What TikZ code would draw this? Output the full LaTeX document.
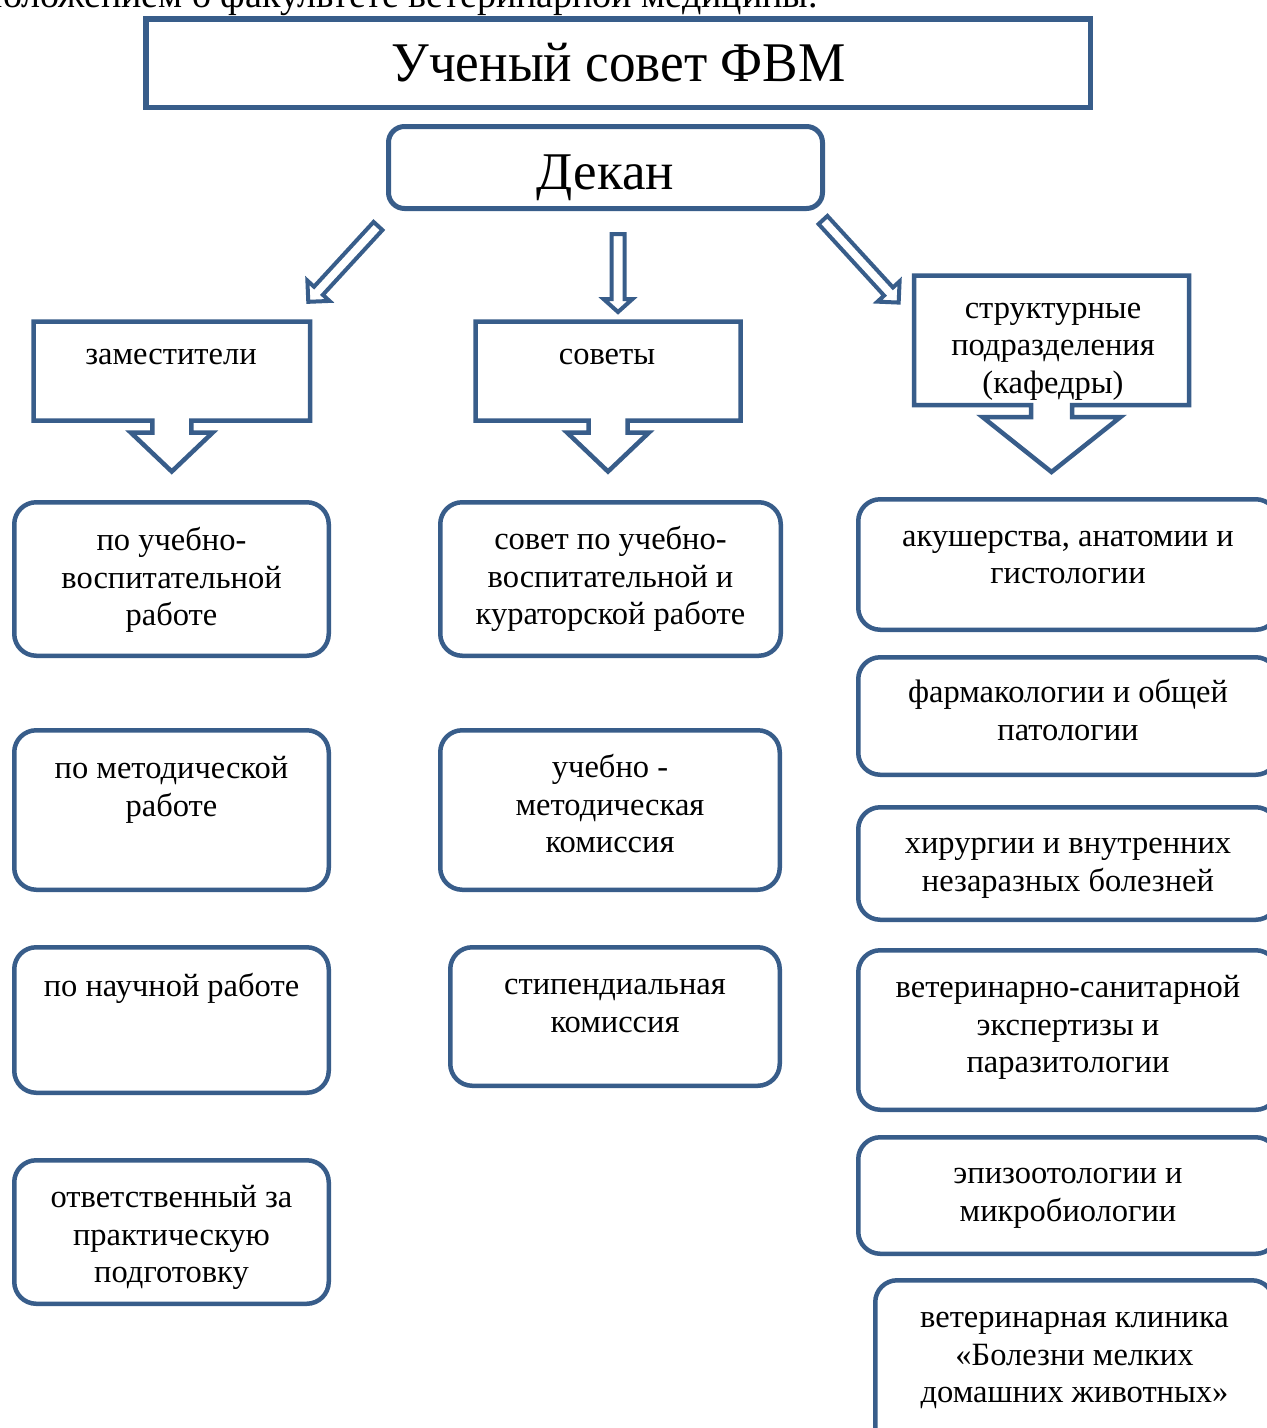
\documentclass[tikz,border=0pt]{standalone}
\usepackage{fontspec}
\setmainfont{Liberation Serif}
\usetikzlibrary{calc}
\definecolor{blu}{RGB}{56,93,138}
\newcommand\bodyfont{\fontsize{32.5}{37.5}\selectfont}
\tikzset{
  ln/.style={draw=blu, line width=4.5pt, line join=miter},
  rbox/.style={ln, rectangle, rounded corners=22pt, fill=white, inner sep=0pt, outer sep=0pt},
  txt/.style={font=\bodyfont, align=center, inner sep=0pt, anchor=north, text=black},
  harrow/.style={draw=blu, line width=4pt, fill=white, line join=miter},
  ghost/.style={rectangle, inner sep=0pt, outer sep=0pt},
}
% name, x1, y1, x2, y2 (outer edges), first line centre y, text
\newcommand\rbx[7]{%
  \node[rbox, minimum width={#4-#2-4.5}, minimum height={#5-#3-4.5}] (#1) at ({(#2+#4)/2},{(#3+#5)/2}) {};
  \node[txt] (#1-t) at ({(#2+#4)/2},{#6-16.5}) {#7};
}
% tail coordinate, angle, length, shaft half width, head half width, head length
\newcommand\blockarrow[6]{%
  \begin{scope}[shift={(#1)}, rotate=#2]
    \draw[harrow] (0,-#4) -- ({#3-#6},-#4) -- ({#3-#6},-#5) -- (#3,0) -- ({#3-#6},#5) -- ({#3-#6},#4) -- (0,#4) -- cycle;
  \end{scope}}
\begin{document}
\begin{tikzpicture}[x=1pt, y=-1pt]
\useasboundingbox (0,0) rectangle (1267,1428);
\fill[white] (0,0) rectangle (1267,1428);
\clip (0,0) rectangle (1267,1428);

% preceding text line (cut off at the top)
\node[font=\fontsize{38}{44}\selectfont, anchor=base east, inner sep=0pt] (prev) at (818,7) {положением о факультете ветеринарной медицины.};

% council
\node[ln, line width=5.5pt, rectangle, minimum width=944.5, minimum height=88.5, inner sep=0pt] (council) at (618,63) {};
\node[font=\fontsize{56}{64}\selectfont, anchor=base, inner sep=0pt] (council-t) at (618.5,81) {\scalebox{0.95}[1]{Ученый совет ФВМ}};

% dean
\node[ln, line width=5pt, rectangle, rounded corners=16pt, minimum width=434, minimum height=82, inner sep=0pt] (dean) at (605.5,167.5) {};
\node[font=\fontsize{53}{60}\selectfont, anchor=base, inner sep=0pt] (dean-t) at (605.5,189) {Декан};

% block arrows from the dean
\coordinate (a1) at (378,226);
\coordinate (a2) at (618,234);
\coordinate (a3) at (823,220);
\blockarrow{a1}{-132.6}{103}{6}{15}{15}
\blockarrow{a2}{-90}{78}{6.5}{14.5}{13}
\blockarrow{a3}{-47.5}{112}{6}{15}{15}

% callouts
\node[ghost, minimum width=276.5, minimum height=99] (zam) at (171.75,371) {};
\draw[ln, fill=white] (zam.north west) -- (zam.north east) -- (zam.south east)
  -- ($(zam.south)+(19.5,0)$) -- ++(0,12) -- ++(21.5,0) -- ($(zam.south)+(0,51)$)
  -- ($(zam.south)+(-41,12)$) -- ++(21.5,0) -- ($(zam.south)+(-19.5,0)$)
  -- (zam.south west) -- cycle;
\node[txt] (zam-t) at (171,338) {\strut заместители};

\node[ghost, minimum width=265, minimum height=99] (sov) at (608,371) {};
\draw[ln, fill=white] (sov.north west) -- (sov.north east) -- (sov.south east)
  -- ($(sov.south)+(19.5,0)$) -- ++(0,12) -- ++(21.5,0) -- ($(sov.south)+(0,51)$)
  -- ($(sov.south)+(-41,12)$) -- ++(21.5,0) -- ($(sov.south)+(-19.5,0)$)
  -- (sov.south west) -- cycle;
\node[txt] (sov-t) at (607,338) {\strut советы};

\node[ghost, minimum width=275, minimum height=129.5] (str) at (1051.5,340.25) {};
\draw[ln, fill=white] (str.north west) -- (str.north east) -- (str.south east)
  -- ($(str.south)+(20.5,0)$) -- ++(0,12) -- ++(48.5,0) -- ($(str.south)+(0,67)$)
  -- ($(str.south)+(-69,12)$) -- ++(48.5,0) -- ($(str.south)+(-20.5,0)$)
  -- (str.south west) -- cycle;
\node[txt] (str-t) at (1053,292) {\strut структурные\\\strut подразделения\\\strut (кафедры)};

% left column
\rbx{l1}{12}{500}{331}{658}{541}{\strut по учебно-\\\strut воспитательной\\\strut работе}
\rbx{l2}{12}{728}{331}{892}{769}{\strut по методической\\\strut работе}
\rbx{l3}{12}{945}{331}{1095}{987}{\strut по научной работе}
\rbx{l4}{12}{1158}{331}{1306}{1198}{\strut ответственный за\\\strut практическую\\\strut подготовку}

% middle column
\rbx{m1}{438}{500}{783}{658}{540}{\strut совет по учебно-\\\strut воспитательной и\\\strut кураторской работе}
\rbx{m2}{438}{728}{782}{892}{768}{\strut учебно -\\\strut методическая\\\strut комиссия}
\rbx{m3}{448}{945}{782}{1088}{985}{\strut стипендиальная\\\strut комиссия}

% right column
\rbx{r1}{856}{497}{1280}{632}{536.5}{\strut акушерства, анатомии и\\\strut гистологии}
\rbx{r2}{856}{655}{1280}{777}{693}{\strut фармакологии и общей\\\strut патологии}
\rbx{r3}{856}{805}{1280}{922}{844}{\strut хирургии и внутренних\\\strut незаразных болезней}
\rbx{r4}{856}{948}{1280}{1112}{988}{\strut ветеринарно-санитарной\\\strut экспертизы и\\\strut паразитологии}
\rbx{r5}{856}{1135}{1280}{1256}{1174}{\strut эпизоотологии и\\\strut микробиологии}
\rbx{r6}{873}{1278}{1276}{1470}{1318}{\strut ветеринарная клиника\\\strut «Болезни мелких\\\strut домашних животных»}
\end{tikzpicture}
\end{document}
